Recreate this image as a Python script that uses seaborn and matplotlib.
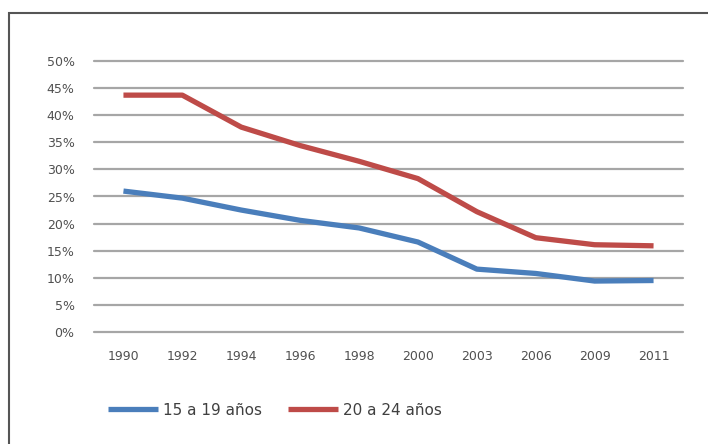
import matplotlib
matplotlib.use("Agg")
import matplotlib.pyplot as plt
import matplotlib.patches as mpatches
from matplotlib.ticker import FuncFormatter
import seaborn as sns
import pandas as pd

years = ["1990", "1992", "1994", "1996", "1998", "2000", "2003", "2006", "2009", "2011"]
series_names = ["15 a 19 años", "20 a 24 años"]
vals_15_19 = [0.260, 0.247, 0.225, 0.206, 0.192, 0.166, 0.116, 0.108, 0.094, 0.095]
vals_20_24 = [0.437, 0.437, 0.378, 0.344, 0.315, 0.283, 0.222, 0.174, 0.161, 0.159]
colors = ["#4a7ebb", "#be4b48"]

df = pd.DataFrame({
    "year": years * 2,
    "value": vals_15_19 + vals_20_24,
    "serie": [series_names[0]] * len(years) + [series_names[1]] * len(years),
})

sns.set_theme(style="white")
plt.rcParams["font.family"] = ["DejaVu Sans"]

fig = plt.figure(figsize=(7.08, 4.44), dpi=100)
ax = fig.add_axes([94 / 708, 112 / 444, (683 - 94) / 708, (332 - 61) / 444])

sns.lineplot(data=df, x="year", y="value", hue="serie", palette=dict(zip(series_names, colors)),
             linewidth=3.8, ax=ax, sort=False, legend=True, solid_capstyle="butt")

ax.set_xlim(-0.5, len(years) - 0.5)
ax.set_ylim(0, 0.5)
ax.set_yticks([i * 0.05 for i in range(11)])
ax.yaxis.set_major_formatter(FuncFormatter(lambda v, p: f"{round(v * 100)}%"))
ax.grid(axis="y", color="#a6a6a6", linewidth=1.6)
ax.grid(axis="x", visible=False)
for gl in ax.get_ygridlines():
    gl.set_clip_on(False)
ax.set_axisbelow(True)
for s in ax.spines.values():
    s.set_visible(False)
ax.set_xlabel("")
ax.set_ylabel("")
ax.tick_params(axis="both", length=0, labelsize=9, labelcolor="#505050")
ax.tick_params(axis="y", pad=14)
ax.tick_params(axis="x", pad=13)

handles, labels = ax.get_legend_handles_labels()
ax.get_legend().remove()
fig.legend(handles, labels, loc="center", bbox_to_anchor=(275 / 708, 1 - 410 / 444),
           ncol=2, frameon=False, fontsize=11, handlelength=3.3, handletextpad=0.3,
           columnspacing=1.7, labelcolor="#404040")

rect = mpatches.Rectangle((9 / 708, -0.1), 1.2, (444 - 13) / 444 + 0.1,
                          transform=fig.transFigure, fill=False, edgecolor="#555555",
                          linewidth=1.5, clip_on=False)
fig.patches.append(rect)

fig.savefig("out.png", dpi=100, facecolor="white")
